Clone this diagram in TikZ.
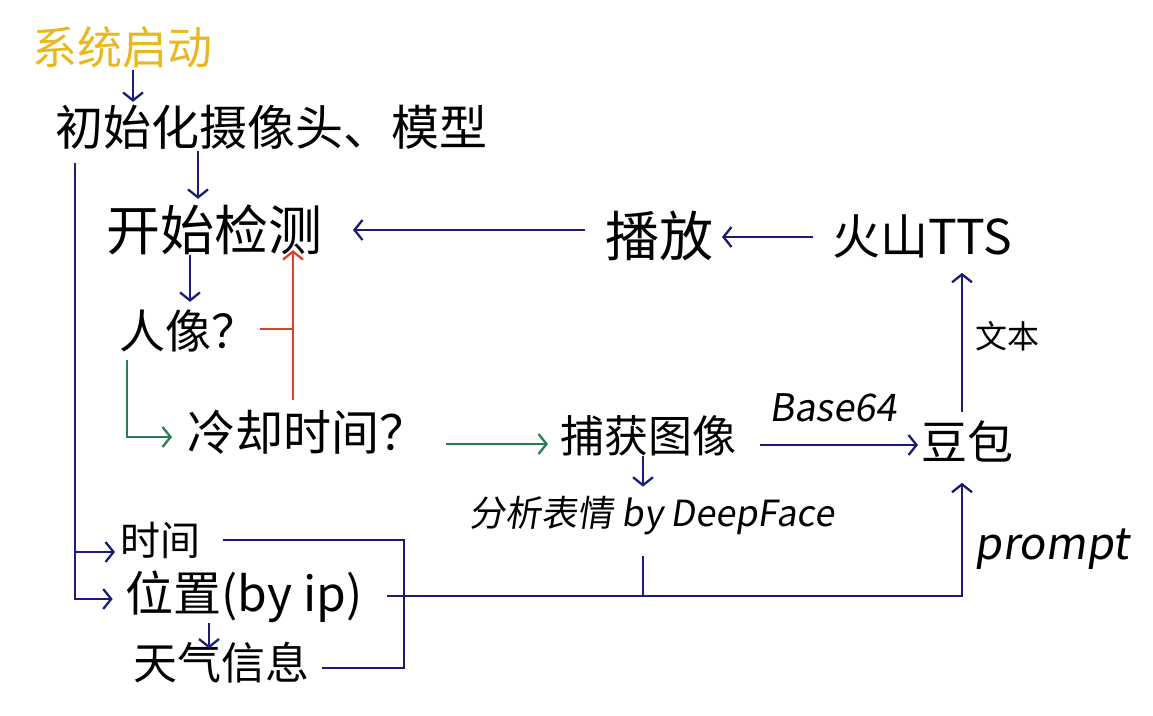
\documentclass[tikz,border=0pt]{standalone}
\usepackage{fontspec}
\setmainfont{Noto Sans CJK SC}
\newfontfamily\hw{Noto Sans CJK SC}
\newfontfamily\hwsl[FakeSlant=0.15]{Noto Sans CJK SC}
\usetikzlibrary{arrows.meta}
\definecolor{navy}{RGB}{28,28,120}
\definecolor{redl}{RGB}{224,64,42}
\definecolor{greenl}{RGB}{38,128,82}
\definecolor{goldl}{RGB}{232,184,30}
\newcommand\fsz[1]{\fontsize{#1}{#1}\selectfont}
\tikzset{
  txt/.style={inner sep=0pt, outer sep=0pt, text=black},
  ln/.style={draw=navy, line width=2.3pt},
  tip/.style={-{Straight Barb[length=8pt,width=20pt]}},
  arr/.style={ln, tip},
  redln/.style={draw=redl, line width=2.3pt},
  redarr/.style={redln, tip},
  grnarr/.style={draw=greenl, line width=2.3pt, tip},
}
\begin{document}
\begin{tikzpicture}[x=1pt,y=-1pt]
\useasboundingbox (0,0) rectangle (1153,715);
\fill[white] (0,0) rectangle (1153,715);
% nodes
\node[txt, text=goldl, font={\hw\fsz{45}}] (start) at (122,47) {系统启动};
\node[txt, font={\hw\fsz{48}}] (init) at (271,127) {初始化摄像头、模型};
\node[txt, font={\hw\fsz{54}}] (detect) at (214,230) {开始检测};
\node[txt, font={\hw\fsz{46}}] (person) at (188,331) {人像？};
\node[txt, font={\hw\fsz{48}}] (cool) at (307,432) {冷却时间？};
\node[txt, font={\hw\fsz{44}}] (capture) at (648,436) {捕获图像};
\node[txt, font={\hwsl\fsz{36}}] (analyze) at (652,516) {分析表情 by DeepFace};
\node[txt, font={\hw\fsz{40}}] (time) at (160,540) {时间};
\node[txt, font={\hw\fsz{48}}] (loc) at (244,597) {位置(by ip)};
\node[txt, font={\hw\fsz{44}}] (weather) at (221,663) {天气信息};
\node[txt, font={\hw\fsz{54}}] (play) at (659,236) {播放};
\node[txt, font={\hw\fsz{48}}] (tts) at (922,237) {火山TTS};
\node[txt, font={\hw\fsz{32}}] (text) at (1007,336) {文本};
\node[txt, font={\hwsl\fsz{38}}] (base) at (833,408) {Base64};
\node[txt, font={\hw\fsz{46}}] (doubao) at (967,441) {豆包};
\node[txt, font={\hwsl\fsz{44}}] (prompt) at (1052,549) {prompt};
% helper lines
\coordinate (cA) at (133,0);
\coordinate (cB) at (198,0);
\coordinate (cC) at (190,0);
\coordinate (cR) at (293,0);
\coordinate (cG) at (127,0);
\coordinate (cL) at (75,0);
\coordinate (cW) at (209,0);
\coordinate (cK) at (404,0);
\coordinate (cH) at (643,0);
\coordinate (cF) at (962,0);
\coordinate (rD) at (0,230);
\coordinate (rE) at (0,237);
\coordinate (rG) at (0,445);
\coordinate (rR) at (0,329);
\coordinate (rC) at (0,437);
\coordinate (rH) at (0,444);
\coordinate (rT) at (0,552);
\coordinate (rP) at (0,599);
\coordinate (rW) at (0,668);
\coordinate (rM) at (0,596);
% connectors
\draw[arr, shorten <=2pt, shorten >=3pt] (start.south -| cA) -- (init.north -| cA);
\draw[arr, shorten <=2pt, shorten >=6pt] (init.south -| cB) -- (detect.north -| cB);
\draw[arr, shorten >=8pt] (detect.south -| cC) -- (person.north -| cC);
\draw[arr, shorten <=20pt, shorten >=31pt] (play.west |- rD) -- (detect.east |- rD);
\draw[arr, shorten <=19pt, shorten >=9pt] (tts.west |- rE) -- (play.east |- rE);
\draw[arr, shorten <=8pt, shorten >=14pt] (doubao.north -| cF) -- (tts.south -| cF);
\draw[arr, shorten <=24pt, shorten >=3pt] (capture.east |- rG) -- (doubao.west |- rG);
\draw[arr, shorten >=10pt] (capture.south -| cH) -- (analyze.north -| cH);
% red
\draw[redln, shorten <=3pt] (person.east |- rR) -- (rR -| cR);
\draw[redarr, shorten <=10pt, shorten >=-5pt] (cool.north -| cR) -- (detect.south -| cR);
% green
\draw[grnarr, shorten <=8pt, shorten >=15pt] (person.south -| cG) |- (cool.west |- rC);
\draw[grnarr, shorten <=19pt, shorten >=12pt] (cool.east |- rH) -- (capture.west |- rH);
% left bus
\draw[arr, shorten <=14pt, shorten >=13pt] (init.south -| cL) -- (cL |- rP) -- (loc.west |- rP);
\draw[arr, shorten >=5pt] (cL |- rT) -- (time.west |- rT);
\draw[arr, shorten >=-6pt] (loc.south -| cW) -- (weather.north -| cW);
% bracket
\draw[ln, shorten <=23pt, shorten >=13pt] (time.east) -- (time.east -| cK) -- (cK |- rW) -- (weather.east |- rW);
% main bus to doubao
\draw[arr, shorten <=25pt, shorten >=21pt] (loc.east |- rM) -- (rM -| cF) -- (doubao.south -| cF);
\draw[ln, shorten <=21pt] (analyze.south -| cH) -- (rM -| cH);
\end{tikzpicture}
\end{document}
